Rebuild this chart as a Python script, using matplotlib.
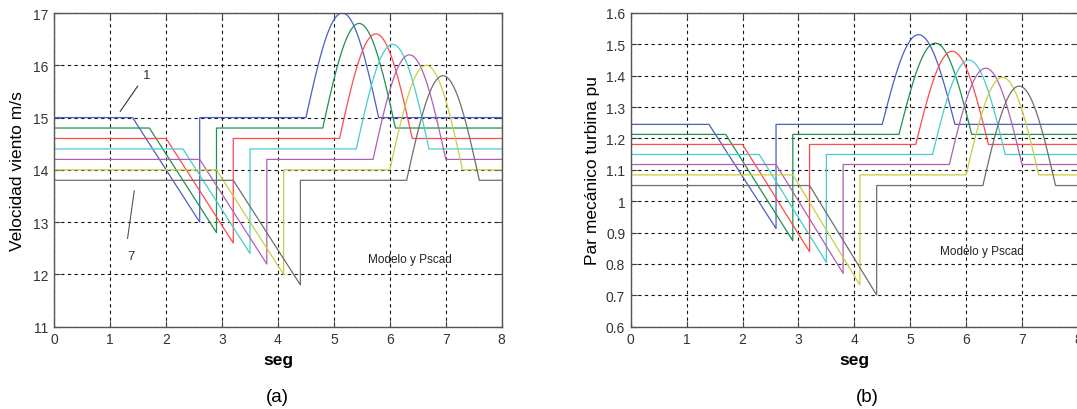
import numpy as np
import matplotlib
matplotlib.use("Agg")
import matplotlib.pyplot as plt
from matplotlib.ticker import FormatStrFormatter, MultipleLocator

plt.rcParams['font.family'] = ['Liberation Sans', 'DejaVu Sans']

# Seven cases, one colour each (case 1 on top, case 7 at the bottom)
colors = ['#4a5ec6', '#1d9150', '#ff4a4a', '#48cccc', '#b060b4', '#cccc44', '#6e6e6e']

# Ramp-down event (seconds)
ramp_start = [1.4, 1.7, 2.0, 2.3, 2.6, 2.9, 3.2]
ramp_end = [2.6, 2.9, 3.2, 3.5, 3.8, 4.1, 4.4]

# Gust event (seconds)
gust_start = [4.5, 4.8, 5.1, 5.4, 5.7, 6.0, 6.3]
gust_end = [5.8, 6.1, 6.4, 6.7, 7.0, 7.3, 7.6]

# Wind speed, m/s
vel_base = [15.0, 14.8, 14.6, 14.4, 14.2, 14.0, 13.8]
vel_low = [13.0, 12.8, 12.6, 12.4, 12.2, 12.0, 11.8]
vel_peak = [17.0, 16.8, 16.6, 16.4, 16.2, 16.0, 15.8]

# Turbine mechanical torque, pu
torque_base = [1.245, 1.213, 1.181, 1.149, 1.117, 1.084, 1.050]
torque_low = [0.913, 0.874, 0.839, 0.805, 0.770, 0.733, 0.701]
torque_peak = [1.531, 1.504, 1.478, 1.450, 1.424, 1.395, 1.367]

T_END = 8.0


def waveform(base, low, peak, rs, re, gs, ge):
    """Ramp down, step back, then a half-sine gust."""
    tg = np.linspace(gs, ge, 80)
    yg = base + (peak - base) * np.sin(np.pi * (tg - gs) / (ge - gs))
    t = np.concatenate([[0, rs, re, re], tg, [T_END]])
    y = np.concatenate([[base, base, low, base], yg, [base]])
    return t, y


fig = plt.figure(figsize=(10.77, 4.10), dpi=100)
H = 410.0
W = 1077.0
ax1 = fig.add_axes([54.3 / W, 1 - 327.7 / H, 447.4 / W, 313.7 / H])
ax2 = fig.add_axes([630.7 / W, 1 - 327.7 / H, 447.2 / W, 313.7 / H])


def style(ax):
    ax.set_xlim(0, 8)
    ax.xaxis.set_major_locator(MultipleLocator(1))
    ax.grid(True, color='#111111', linestyle=(0, (3, 3)), linewidth=0.8)
    ax.tick_params(direction='in', length=4, width=0.8, colors='#444444',
                   labelsize=10, labelcolor='#333333', top=True, right=True, pad=4)
    for s in ax.spines.values():
        s.set_color('#555555')
        s.set_linewidth(1.0)
    ax.set_xlabel('seg', fontsize=12.5, fontweight='bold', labelpad=4)


for i in range(7):
    t, y = waveform(vel_base[i], vel_low[i], vel_peak[i],
                    ramp_start[i], ramp_end[i], gust_start[i], gust_end[i])
    ax1.plot(t, y, color=colors[i], lw=0.9)
    t, y = waveform(torque_base[i], torque_low[i], torque_peak[i],
                    ramp_start[i], ramp_end[i], gust_start[i], gust_end[i])
    ax2.plot(t, y, color=colors[i], lw=0.9)

style(ax1)
ax1.set_ylim(11, 17)
ax1.yaxis.set_major_locator(MultipleLocator(1))
ax1.set_ylabel('Velocidad viento m/s', fontsize=12.5, labelpad=6)
ax1.text(6.35, 12.29, 'Modelo y Pscad', fontsize=8.5, color='#222222',
         ha='center', va='center')
ax1.plot([1.18, 1.49], [15.12, 15.6], color='#333333', lw=0.8)
ax1.text(1.66, 15.82, '1', fontsize=9.5, color='#333333', ha='center', va='center')
ax1.plot([1.31, 1.43], [12.69, 13.6], color='#555555', lw=0.8)
ax1.text(1.37, 12.35, '7', fontsize=9.5, color='#333333', ha='center', va='center')

style(ax2)
ax2.set_ylim(0.6, 1.6)
ax2.yaxis.set_major_locator(MultipleLocator(0.1))
ax2.yaxis.set_major_formatter(FormatStrFormatter('%g'))
ax2.set_ylabel('Par mecánico turbina pu', fontsize=12.5, labelpad=4)
ax2.text(6.29, 0.84, 'Modelo y Pscad', fontsize=8.5, color='#222222',
         ha='center', va='center')

fig.text(277.5 / W, 1 - 398 / H, '(a)', fontsize=13.5, ha='center', va='center')
fig.text(867 / W, 1 - 398 / H, '(b)', fontsize=13.5, ha='center', va='center')

fig.savefig('out.png', dpi=100)
